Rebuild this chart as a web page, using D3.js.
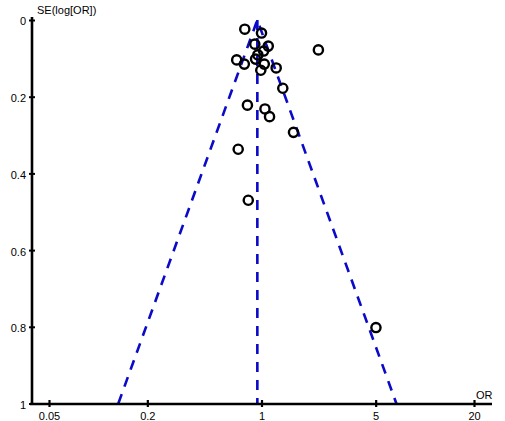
<!DOCTYPE html>
<html>
<head>
<meta charset="utf-8">
<script src="https://cdn.jsdelivr.net/npm/d3@7"></script>
<style>
  html, body { margin: 0; padding: 0; background: #fff; }
  svg { display: block; font-family: "Liberation Sans", Arial, sans-serif; }
</style>
</head>
<body>
<div id="wrap"></div>
<script>
// study odds ratios and their standard errors (log scale)
const studyOR = [0.79, 1.00, 0.91, 1.10, 1.03, 0.95, 0.92, 0.705, 0.785, 1.04, 0.99,
                 1.23, 2.23, 1.35, 0.82, 1.05, 1.12, 1.57, 0.72, 0.83, 5.02];
const studySE = [0.024, 0.034, 0.063, 0.068, 0.081, 0.091, 0.102, 0.104, 0.115, 0.115, 0.131,
                 0.125, 0.078, 0.178, 0.222, 0.232, 0.252, 0.293, 0.337, 0.470, 0.802];
const pooledOR = 0.943;
const seRange = [0, 1];
const xTicks = [0.05, 0.2, 1, 5, 20];
const yTicks = [0, 0.2, 0.4, 0.6, 0.8, 1];

const width = 505;
const height = 421;

const axisX0 = 32;      // where the y axis sits
const axisY0 = 404;     // where the x axis sits

const x = d3.scaleLog()
    .domain([0.05, 20])
    .range([49, 474]);

const y = d3.scaleLinear()
    .domain(seRange)
    .range([20, 403.5]);

const svg = d3.select("#wrap").append("svg")
    .attr("width", width)
    .attr("height", height);

// pseudo 95% confidence limits
const z = 1.96;
const funnel = [
    [[pooledOR * Math.exp(-z * seRange[1]), seRange[1]], [pooledOR, 0], [pooledOR * Math.exp(z * seRange[1]), seRange[1]]],
    [[pooledOR, 0], [pooledOR, seRange[1]]]
];

const line = d3.line()
    .x(d => x(d[0]))
    .y(d => y(d[1]));

svg.append("g")
    .selectAll("path")
    .data(funnel)
    .join("path")
    .attr("d", line)
    .attr("fill", "none")
    .attr("stroke", "#0a0ac8")
    .attr("stroke-width", 2.6)
    .attr("stroke-dasharray", "10,8");

// axes
const yAxis = d3.axisLeft(y)
    .tickValues(yTicks)
    .tickFormat(d3.format(""))
    .tickSize(3)
    .tickPadding(3);

const gy = svg.append("g")
    .attr("transform", `translate(${axisX0},0)`)
    .call(yAxis);
gy.select(".domain").remove();
gy.selectAll(".tick line").attr("x1", 3).attr("stroke-width", 2);
gy.selectAll("text").attr("font-size", 11).attr("fill", "#000").attr("dy", "0.45em");

const xAxis = d3.axisBottom(x)
    .tickValues(xTicks)
    .tickFormat(d => d)
    .tickSize(3)
    .tickPadding(5);

const gx = svg.append("g")
    .attr("transform", `translate(0,${axisY0})`)
    .call(xAxis);
gx.select(".domain").remove();
gx.selectAll(".tick line").attr("y1", -4).attr("stroke-width", 2.2);
gx.selectAll("text").attr("font-size", 11).attr("fill", "#000");

svg.append("line")
    .attr("x1", axisX0).attr("x2", axisX0)
    .attr("y1", 17).attr("y2", axisY0 + 1)
    .attr("stroke", "#000").attr("stroke-width", 2.6);

svg.append("line")
    .attr("x1", axisX0 - 2).attr("x2", 492)
    .attr("y1", axisY0).attr("y2", axisY0)
    .attr("stroke", "#000").attr("stroke-width", 2.6);

svg.append("text")
    .attr("x", 37).attr("y", 14)
    .attr("font-size", 11)
    .text("SE(log[OR])");

svg.append("text")
    .attr("x", 476).attr("y", 399)
    .attr("font-size", 11)
    .text("OR");

// studies
svg.append("g")
    .selectAll("circle")
    .data(studyOR.map((d, i) => ({or: d, se: studySE[i]})))
    .join("circle")
    .attr("cx", d => x(d.or))
    .attr("cy", d => y(d.se))
    .attr("r", 4.6)
    .attr("fill", "none")
    .attr("stroke", "#000")
    .attr("stroke-width", 2.4);
</script>
</body>
</html>
